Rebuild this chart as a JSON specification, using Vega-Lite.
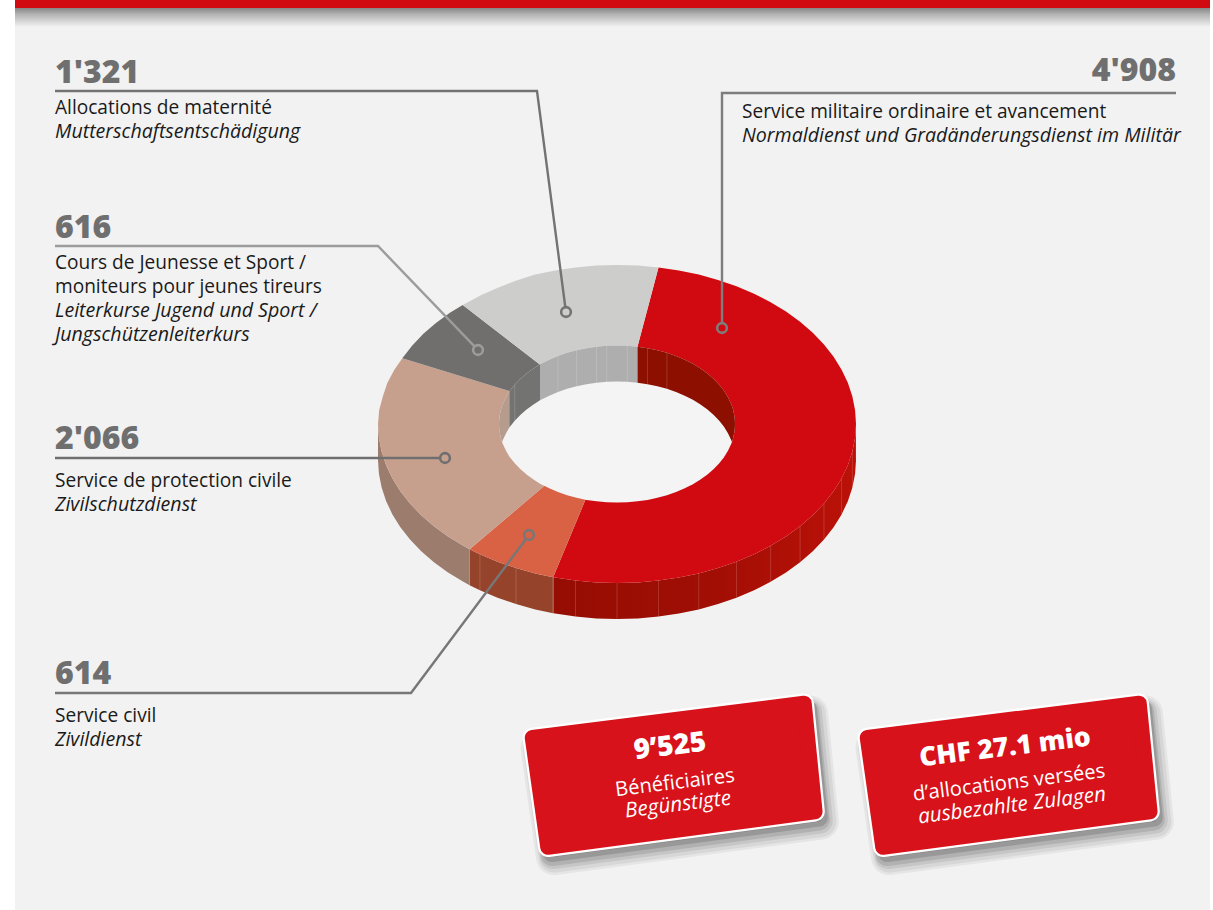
{
"$schema":"https://vega.github.io/schema/vega-lite/v6.json",
"autosize":{"type":"fit","contains":"padding"},
"width":1213,"height":910,"padding":0,"background":"#ffffff",
"config":{"view":{"stroke":null}},
"datasets":{
"panels":[{"n":"panel","x":15,"x2":1210,"y":0,"y2":910}],
"shadowband":[{"x":15,"x2":1210,"y":8,"y2":27}],
"band":[{"x":15,"x2":1210,"y":0,"y2":8}],
"rim":[
{"s":"militaire","o":0,"x":0,"y":0},
{"s":"militaire","o":1,"x":0.1736,"y":0.9848},{"s":"militaire","o":2,"x":0.2588,"y":0.9659},{"s":"militaire","o":3,"x":0.342,"y":0.9397},{"s":"militaire","o":4,"x":0.4226,"y":0.9063},{"s":"militaire","o":5,"x":0.5,"y":0.866},{"s":"militaire","o":6,"x":0.5736,"y":0.8192},{"s":"militaire","o":7,"x":0.6428,"y":0.766},{"s":"militaire","o":8,"x":0.7071,"y":0.7071},{"s":"militaire","o":9,"x":0.766,"y":0.6428},{"s":"militaire","o":10,"x":0.8192,"y":0.5736},{"s":"militaire","o":11,"x":0.866,"y":0.5},{"s":"militaire","o":12,"x":0.9063,"y":0.4226},{"s":"militaire","o":13,"x":0.9397,"y":0.342},{"s":"militaire","o":14,"x":0.9659,"y":0.2588},{"s":"militaire","o":15,"x":0.9848,"y":0.1736},{"s":"militaire","o":16,"x":0.9962,"y":0.0872},
{"s":"militaire","o":17,"x":1,"y":0,"b":-0.2264},{"s":"militaire","o":18,"x":0.9962,"y":-0.0872,"b":-0.3136},{"s":"militaire","o":19,"x":0.9848,"y":-0.1736,"b":-0.4},{"s":"militaire","o":20,"x":0.9659,"y":-0.2588,"b":-0.4852},{"s":"militaire","o":21,"x":0.9397,"y":-0.342,"b":-0.5684},{"s":"militaire","o":22,"x":0.9063,"y":-0.4226,"b":-0.649},{"s":"militaire","o":23,"x":0.866,"y":-0.5,"b":-0.7264},{"s":"militaire","o":24,"x":0.8192,"y":-0.5736,"b":-0.8},{"s":"militaire","o":25,"x":0.766,"y":-0.6428,"b":-0.8692},{"s":"militaire","o":26,"x":0.7071,"y":-0.7071,"b":-0.9335},{"s":"militaire","o":27,"x":0.6428,"y":-0.766,"b":-0.9924},{"s":"militaire","o":28,"x":0.5736,"y":-0.8192,"b":-1.0456},{"s":"militaire","o":29,"x":0.5,"y":-0.866,"b":-1.0924},{"s":"militaire","o":30,"x":0.4226,"y":-0.9063,"b":-1.1327},{"s":"militaire","o":31,"x":0.342,"y":-0.9397,"b":-1.1661},{"s":"militaire","o":32,"x":0.2588,"y":-0.9659,"b":-1.1923},{"s":"militaire","o":33,"x":0.1736,"y":-0.9848,"b":-1.2112},{"s":"militaire","o":34,"x":0.0872,"y":-0.9962,"b":-1.2226},{"s":"militaire","o":35,"x":0,"y":-1,"b":-1.2264},{"s":"militaire","o":36,"x":-0.0872,"y":-0.9962,"b":-1.2226},{"s":"militaire","o":37,"x":-0.1736,"y":-0.9848,"b":-1.2112},{"s":"militaire","o":38,"x":-0.2588,"y":-0.9659,"b":-1.1923},{"s":"militaire","o":39,"x":-0.2672,"y":-0.9636,"b":-1.19},
{"s":"civil","o":0,"x":0,"y":0},
{"s":"civil","o":1,"x":-0.2672,"y":-0.9636,"b":-1.19},{"s":"civil","o":2,"x":-0.342,"y":-0.9397,"b":-1.1661},{"s":"civil","o":3,"x":-0.4226,"y":-0.9063,"b":-1.1327},{"s":"civil","o":4,"x":-0.5,"y":-0.866,"b":-1.0924},{"s":"civil","o":5,"x":-0.5736,"y":-0.8192,"b":-1.0456},{"s":"civil","o":6,"x":-0.6169,"y":-0.7883,"b":-1.0147},
{"s":"protection","o":0,"x":0,"y":0},
{"s":"protection","o":1,"x":-0.6169,"y":-0.7883,"b":-1.0147},{"s":"protection","o":2,"x":-0.6428,"y":-0.766,"b":-0.9924},{"s":"protection","o":3,"x":-0.7071,"y":-0.7071,"b":-0.9335},{"s":"protection","o":4,"x":-0.766,"y":-0.6428,"b":-0.8692},{"s":"protection","o":5,"x":-0.8192,"y":-0.5736,"b":-0.8},{"s":"protection","o":6,"x":-0.866,"y":-0.5,"b":-0.7264},{"s":"protection","o":7,"x":-0.9063,"y":-0.4226,"b":-0.649},{"s":"protection","o":8,"x":-0.9397,"y":-0.342,"b":-0.5684},{"s":"protection","o":9,"x":-0.9659,"y":-0.2588,"b":-0.4852},{"s":"protection","o":10,"x":-0.9848,"y":-0.1736,"b":-0.4},{"s":"protection","o":11,"x":-0.9962,"y":-0.0872,"b":-0.3136},{"s":"protection","o":12,"x":-1,"y":0,"b":-0.2264},
{"s":"protection","o":13,"x":-0.9952,"y":0.0871},{"s":"protection","o":14,"x":-0.9798,"y":0.1727},{"s":"protection","o":15,"x":-0.9611,"y":0.2575},{"s":"protection","o":16,"x":-0.9322,"y":0.3393},{"s":"protection","o":17,"x":-0.8983,"y":0.4132},
{"s":"jeunesse","o":0,"x":0,"y":0},
{"s":"jeunesse","o":1,"x":-0.8983,"y":0.4132},{"s":"jeunesse","o":2,"x":-0.8565,"y":0.4945},{"s":"jeunesse","o":3,"x":-0.8102,"y":0.5673},{"s":"jeunesse","o":4,"x":-0.7576,"y":0.6357},{"s":"jeunesse","o":5,"x":-0.6993,"y":0.6993},{"s":"jeunesse","o":6,"x":-0.6456,"y":0.7484},
{"s":"maternite","o":0,"x":0,"y":0},
{"s":"maternite","o":1,"x":-0.6456,"y":0.7484},{"s":"maternite","o":2,"x":-0.5679,"y":0.811},{"s":"maternite","o":3,"x":-0.496,"y":0.8591},{"s":"maternite","o":4,"x":-0.4205,"y":0.9018},{"s":"maternite","o":5,"x":-0.342,"y":0.9397},{"s":"maternite","o":6,"x":-0.2588,"y":0.9659},{"s":"maternite","o":7,"x":-0.1736,"y":0.9848},{"s":"maternite","o":8,"x":-0.0872,"y":0.9962},{"s":"maternite","o":9,"x":0,"y":1},{"s":"maternite","o":10,"x":0.0872,"y":0.9962},{"s":"maternite","o":11,"x":0.1736,"y":0.9848}
],
"inner":[
{"s":"protection","x":-0.494,"y":0,"h":0,"w":0},{"s":"protection","x":-0.4921,"y":0.0431,"h":-0.0431,"w":-0.0431},{"s":"protection","x":-0.4865,"y":0.0858,"h":-0.0858,"w":-0.0858},{"s":"protection","x":-0.481,"y":0.1132,"h":-0.1132,"w":-0.1132},{"s":"protection","x":-0.4772,"y":0.1278,"h":-0.1278,"w":-0.0986},{"s":"protection","x":-0.4642,"y":0.1689,"h":-0.1689,"w":-0.0575},{"s":"protection","x":-0.4506,"y":0.2038,"h":-0.2038,"w":-0.0226},
{"s":"jeunesse","x":-0.4506,"y":0.2038,"h":-0.2038,"w":-0.0226},{"s":"jeunesse","x":-0.4278,"y":0.247,"h":-0.247,"w":0.0206},{"s":"jeunesse","x":-0.4047,"y":0.2834,"h":-0.2834,"w":0.057},{"s":"jeunesse","x":-0.3784,"y":0.3175,"h":-0.3175,"w":0.0911},{"s":"jeunesse","x":-0.3493,"y":0.3493,"h":-0.3493,"w":0.1229},{"s":"jeunesse","x":-0.3222,"y":0.3755,"h":-0.3755,"w":0.1491},
{"s":"maternite","x":-0.3222,"y":0.3755,"h":-0.3755,"w":0.1491},{"s":"maternite","x":-0.2834,"y":0.4047,"h":-0.4047,"w":0.1783},{"s":"maternite","x":-0.247,"y":0.4278,"h":-0.4278,"w":0.2014},{"s":"maternite","x":-0.2088,"y":0.4477,"h":-0.4477,"w":0.2213},{"s":"maternite","x":-0.1689,"y":0.4642,"h":-0.4642,"w":0.2378},{"s":"maternite","x":-0.1278,"y":0.4772,"h":-0.4772,"w":0.2508},{"s":"maternite","x":-0.0858,"y":0.4865,"h":-0.4865,"w":0.2601},{"s":"maternite","x":-0.0431,"y":0.4921,"h":-0.4921,"w":0.2657},{"s":"maternite","x":0,"y":0.494,"h":-0.494,"w":0.2676},{"s":"maternite","x":0.0431,"y":0.4921,"h":-0.4921,"w":0.2657},{"s":"maternite","x":0.0858,"y":0.4865,"h":-0.4865,"w":0.2601},
{"s":"militaire","x":0.0858,"y":0.4865,"h":-0.4865,"w":0.2601},{"s":"militaire","x":0.1278,"y":0.4772,"h":-0.4772,"w":0.2508},{"s":"militaire","x":0.1689,"y":0.4642,"h":-0.4642,"w":0.2378},{"s":"militaire","x":0.2088,"y":0.4477,"h":-0.4477,"w":0.2213},{"s":"militaire","x":0.247,"y":0.4278,"h":-0.4278,"w":0.2014},{"s":"militaire","x":0.2834,"y":0.4047,"h":-0.4047,"w":0.1783},{"s":"militaire","x":0.3175,"y":0.3784,"h":-0.3784,"w":0.152},{"s":"militaire","x":0.3493,"y":0.3493,"h":-0.3493,"w":0.1229},{"s":"militaire","x":0.3784,"y":0.3175,"h":-0.3175,"w":0.0911},{"s":"militaire","x":0.4047,"y":0.2834,"h":-0.2834,"w":0.057},{"s":"militaire","x":0.4278,"y":0.247,"h":-0.247,"w":0.0206},{"s":"militaire","x":0.4477,"y":0.2088,"h":-0.2088,"w":-0.0176},{"s":"militaire","x":0.4642,"y":0.1689,"h":-0.1689,"w":-0.0575},{"s":"militaire","x":0.4772,"y":0.1278,"h":-0.1278,"w":-0.0986},{"s":"militaire","x":0.481,"y":0.1132,"h":-0.1132,"w":-0.1132},{"s":"militaire","x":0.4865,"y":0.0858,"h":-0.0858,"w":-0.0858},{"s":"militaire","x":0.4921,"y":0.0431,"h":-0.0431,"w":-0.0431},{"s":"militaire","x":0.494,"y":0,"h":0,"w":0}
],
"leaders":[
{"k":"maternite","o":1,"x":55,"y":91},{"k":"maternite","o":2,"x":537,"y":91},{"k":"maternite","o":3,"x":565.3,"y":307},
{"k":"militaire","o":1,"x":1176,"y":93},{"k":"militaire","o":2,"x":722,"y":93},{"k":"militaire","o":3,"x":722,"y":323},
{"k":"jeunesse","o":1,"x":55,"y":246},{"k":"jeunesse","o":2,"x":378,"y":246},{"k":"jeunesse","o":3,"x":474.5,"y":346.4},
{"k":"protection","o":1,"x":55,"y":458},{"k":"protection","o":2,"x":440,"y":458},
{"k":"civil","o":1,"x":55,"y":693},{"k":"civil","o":2,"x":411,"y":693},{"k":"civil","o":3,"x":526,"y":539}
],
"dots":[{"k":"maternite","x":566,"y":312},{"k":"militaire","x":722,"y":328},{"k":"jeunesse","x":478,"y":350},{"k":"protection","x":445,"y":458},{"k":"civil","x":529,"y":535}],
"values":[
{"s":"maternite","value":1321,"t":"1'321","x":55,"y":83,"a":"left"},
{"s":"militaire","value":4908,"t":"4'908","x":1176,"y":81,"a":"right"},
{"s":"jeunesse","value":616,"t":"616","x":55,"y":238,"a":"left"},
{"s":"protection","value":2066,"t":"2'066","x":55,"y":449,"a":"left"},
{"s":"civil","value":614,"t":"614","x":55,"y":684,"a":"left"}
],
"fr":[
{"t":"Allocations de maternité","x":55,"y":114},
{"t":"Service militaire ordinaire et avancement","x":742,"y":118},
{"t":"Cours de Jeunesse et Sport /","x":55,"y":269},
{"t":"moniteurs pour jeunes tireurs","x":55,"y":293},
{"t":"Service de protection civile","x":55,"y":487},
{"t":"Service civil","x":55,"y":722}
],
"de":[
{"t":"Mutterschaftsentschädigung","x":55,"y":138},
{"t":"Normaldienst und Gradänderungsdienst im Militär","x":742,"y":142},
{"t":"Leiterkurse Jugend und Sport /","x":55,"y":317},
{"t":"Jungschützenleiterkurs","x":55,"y":341},
{"t":"Zivilschutzdienst","x":55,"y":511},
{"t":"Zivildienst","x":55,"y":746}
],
"cards":[
{"c":"a","o":1,"x":532.5,"y":737.7},{"c":"a","o":2,"x":804,"y":703.4},{"c":"a","o":3,"x":814.8,"y":811.6},{"c":"a","o":4,"x":548,"y":847.1},{"c":"a","o":5,"x":532.5,"y":737.7},
{"c":"b","o":1,"x":867.5,"y":737.7},{"c":"b","o":2,"x":1139,"y":703.4},{"c":"b","o":3,"x":1149.8,"y":811.6},{"c":"b","o":4,"x":883,"y":847.1},{"c":"b","o":5,"x":867.5,"y":737.7}
],
"cardHead":[{"t":"9’525","x":670,"y":747,"c":"a"},{"t":"CHF 27.1 mio","x":1005,"y":748,"c":"b"}],
"cardFr":[{"t":"Bénéficiaires","x":675,"y":783},{"t":"d’allocations versées","x":1009,"y":783}],
"cardDe":[{"t":"Begünstigte","x":678,"y":805},{"t":"ausbezahlte Zulagen","x":1012,"y":806}]
},
"resolve":{"scale":{"x":"independent","y":"independent"}},
"layer":[
{
"encoding":{
"x":{"field":"x","type":"quantitative","axis":null,"scale":{"domain":[0,1213],"nice":false,"zero":false}},
"y":{"field":"y","type":"quantitative","axis":null,"scale":{"domain":[910,0],"nice":false,"zero":false}},
"x2":{"field":"x2"},"y2":{"field":"y2"}
},
"layer":[
{"data":{"name":"panels"},"mark":{"type":"rect","fill":"#f2f2f2"}},
{"data":{"name":"shadowband"},"mark":{"type":"rect","fill":{"x1":0,"y1":0,"x2":0,"y2":1,"gradient":"linear","stops":[{"offset":0,"color":"#858585"},{"offset":0.35,"color":"#b5b5b5"},{"offset":1,"color":"#f2f2f2"}]}}},
{"data":{"name":"band"},"mark":{"type":"rect","fill":"#d10a11"}}
]
},
{
"encoding":{
"x":{"field":"x","type":"quantitative","axis":null,"scale":{"domain":[-2.5816,2.4937],"nice":false,"zero":false}},
"y":{"field":"y","type":"quantitative","axis":null,"scale":{"domain":[-3.0566,2.6667],"nice":false,"zero":false}}
},
"resolve":{"scale":{"fill":"independent"}},
"layer":[
{"data":{"name":"rim"},"transform":[{"filter":"isValid(datum.b) && datum.s=='militaire'"}],
 "mark":{"type":"area","orient":"vertical","fill":{"x1":0,"y1":0,"x2":1,"y2":0,"gradient":"linear","stops":[{"offset":0,"color":"#960d03"},{"offset":0.5,"color":"#a00e04"},{"offset":1,"color":"#bb1108"}]}},
 "encoding":{"y2":{"field":"b"}}},
{"data":{"name":"rim"},"transform":[{"filter":"isValid(datum.b) && datum.s!='militaire'"}],
 "mark":{"type":"area","orient":"vertical"},
 "encoding":{"y2":{"field":"b"},"fill":{"field":"s","type":"nominal","legend":null,"scale":{"domain":["civil","protection"],"range":["#96432b","#9c7d6d"]}}}},
{"data":{"name":"rim"},"transform":[{"filter":"isValid(datum.b) && datum.s!='protection' && datum.o%2==1"}],
 "mark":{"type":"rule","stroke":"#ffffff","strokeOpacity":0.2,"strokeWidth":0.8},
 "encoding":{"y2":{"field":"b"}}},
{"data":{"name":"rim"},
 "mark":{"type":"line","stroke":null},
 "encoding":{"order":{"field":"o","type":"ordinal"},"fill":{"field":"s","type":"nominal","legend":null,"scale":{"domain":["militaire","civil","protection","jeunesse","maternite"],"range":["#d10a11","#d96245","#c7a08d","#706f6e","#cdcdcb"]}}}},
{"data":{"name":"inner"},"mark":{"type":"area","orient":"vertical","fill":"#f4f4f4"},"encoding":{"y2":{"field":"h"}}},
{"data":{"name":"inner"},"mark":{"type":"area","orient":"vertical"},
 "encoding":{"y2":{"field":"w"},"fill":{"field":"s","type":"nominal","legend":null,"scale":{"domain":["militaire","protection","jeunesse","maternite"],"range":["#8c0f00","#b59c8f","#737372","#aeaeae"]}}}},
{"data":{"name":"inner"},"transform":[{"filter":"indexof([-0.4278,-0.247,-0.1689,-0.0858,-0.0431,0.0431,0.1278,0.2088],datum.x)>=0"}],"mark":{"type":"rule","stroke":"#ffffff","strokeOpacity":0.2,"strokeWidth":0.8},"encoding":{"y2":{"field":"w"}}}
]
},
{
"encoding":{
"x":{"field":"x","type":"quantitative","axis":null,"scale":{"domain":[0,1213],"nice":false,"zero":false}},
"y":{"field":"y","type":"quantitative","axis":null,"scale":{"domain":[910,0],"nice":false,"zero":false}}
},
"layer":[
{"data":{"name":"leaders"},"mark":{"type":"line","strokeWidth":2.4,"strokeJoin":"miter"},
 "encoding":{"order":{"field":"o","type":"ordinal"},"stroke":{"field":"k","type":"nominal","legend":null,"scale":{"domain":["maternite","militaire","jeunesse","protection","civil"],"range":["#737373","#7d7d7d","#9c9c9c","#6f6f6f","#777777"]}}}},
{"data":{"name":"dots"},"mark":{"type":"point","size":95,"filled":false,"strokeWidth":2.6,"opacity":1},
 "encoding":{"stroke":{"field":"k","type":"nominal","legend":null,"scale":{"domain":["maternite","militaire","jeunesse","protection","civil"],"range":["#6f6f6f","#6f6f6f","#a3a3a3","#6f6f6f","#6f6f6f"]}}}},
{"data":{"name":"cards"},"mark":{"type":"line","xOffset":6,"yOffset":10,"stroke":"#000000","strokeOpacity":0.05,"fill":"#000000","fillOpacity":0.05,"strokeWidth":36,"strokeJoin":"round","strokeCap":"round"},"encoding":{"order":{"field":"o","type":"ordinal"},"detail":{"field":"c"}}},
{"data":{"name":"cards"},"mark":{"type":"line","xOffset":6,"yOffset":10,"stroke":"#000000","strokeOpacity":0.06,"fill":"#000000","fillOpacity":0.06,"strokeWidth":31,"strokeJoin":"round","strokeCap":"round"},"encoding":{"order":{"field":"o","type":"ordinal"},"detail":{"field":"c"}}},
{"data":{"name":"cards"},"mark":{"type":"line","xOffset":5,"yOffset":9,"stroke":"#000000","strokeOpacity":0.08,"fill":"#000000","fillOpacity":0.08,"strokeWidth":26,"strokeJoin":"round","strokeCap":"round"},"encoding":{"order":{"field":"o","type":"ordinal"},"detail":{"field":"c"}}},
{"data":{"name":"cards"},"mark":{"type":"line","xOffset":4,"yOffset":8,"stroke":"#000000","strokeOpacity":0.1,"fill":"#000000","fillOpacity":0.1,"strokeWidth":22,"strokeJoin":"round","strokeCap":"round"},"encoding":{"order":{"field":"o","type":"ordinal"},"detail":{"field":"c"}}},
{"data":{"name":"cards"},"mark":{"type":"line","xOffset":4,"yOffset":6,"stroke":"#000000","strokeOpacity":0.14,"fill":"#000000","fillOpacity":0.14,"strokeWidth":18,"strokeJoin":"round","strokeCap":"round"},"encoding":{"order":{"field":"o","type":"ordinal"},"detail":{"field":"c"}}},
{"data":{"name":"cards"},"mark":{"type":"line","stroke":"#ffffff","fill":"#ffffff","strokeWidth":20,"strokeJoin":"round","strokeCap":"round"},"encoding":{"order":{"field":"o","type":"ordinal"},"detail":{"field":"c"}}},
{"data":{"name":"cards"},"mark":{"type":"line","stroke":"#d7121a","fill":"#d7121a","strokeWidth":15.5,"strokeJoin":"round","strokeCap":"round"},"encoding":{"order":{"field":"o","type":"ordinal"},"detail":{"field":"c"}}},
{"data":{"name":"values"},"transform":[{"filter":"datum.a=='left'"}],"mark":{"type":"text","font":"Open Sans","fontWeight":800,"fontSize":32,"align":"left","baseline":"alphabetic","fill":"#6f6f6f"},"encoding":{"text":{"field":"t"}}},
{"data":{"name":"values"},"transform":[{"filter":"datum.a=='right'"}],"mark":{"type":"text","font":"Open Sans","fontWeight":800,"fontSize":32,"align":"right","baseline":"alphabetic","fill":"#6f6f6f"},"encoding":{"text":{"field":"t"}}},
{"data":{"name":"fr"},"mark":{"type":"text","font":"Open Sans","fontSize":19.1,"align":"left","baseline":"alphabetic","fill":"#1a1a1a"},"encoding":{"text":{"field":"t"}}},
{"data":{"name":"de"},"mark":{"type":"text","font":"Open Sans","fontStyle":"italic","fontSize":19.6,"align":"left","baseline":"alphabetic","fill":"#1a1a1a"},"encoding":{"text":{"field":"t"}}},
{"data":{"name":"cardHead"},"transform":[{"filter":"datum.c=='a'"}],"mark":{"type":"text","font":"Open Sans","fontWeight":800,"fontSize":28,"angle":353,"align":"center","baseline":"middle","fill":"#ffffff"},"encoding":{"text":{"field":"t"}}},
{"data":{"name":"cardHead"},"transform":[{"filter":"datum.c=='b'"}],"mark":{"type":"text","font":"Open Sans","fontWeight":800,"fontSize":26.6,"angle":353,"align":"center","baseline":"middle","fill":"#ffffff"},"encoding":{"text":{"field":"t"}}},
{"data":{"name":"cardFr"},"mark":{"type":"text","font":"Open Sans","fontWeight":500,"fontSize":20.2,"angle":353,"align":"center","baseline":"middle","fill":"#ffffff"},"encoding":{"text":{"field":"t"}}},
{"data":{"name":"cardDe"},"mark":{"type":"text","font":"Open Sans","fontWeight":500,"fontStyle":"italic","fontSize":20.8,"angle":353,"align":"center","baseline":"middle","fill":"#ffffff"},"encoding":{"text":{"field":"t"}}}
]
}
]
}
